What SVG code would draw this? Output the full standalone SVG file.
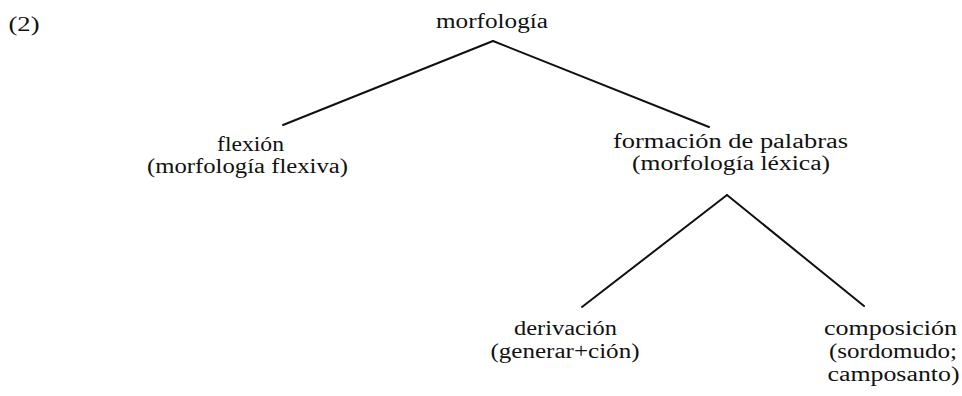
<svg xmlns="http://www.w3.org/2000/svg" width="962" height="396" viewBox="0 0 962 396">
<style>
.t{font-size:20px;fill:#111;text-anchor:middle}
.edge{stroke:#111;stroke-width:2;fill:none;stroke-linecap:round}
</style>
<rect width="962" height="396" fill="#fff"/>
<g font-family="'Liberation Serif', 'Times New Roman', serif">
<text id="num" class="t" x="24" y="31" textLength="31" lengthAdjust="spacingAndGlyphs">(2)</text>
<g id="connectors">
<line class="edge" x1="493" y1="41" x2="283" y2="125"/>
<line class="edge" x1="493" y1="41" x2="709" y2="127"/>
<line class="edge" x1="727" y1="195" x2="582" y2="307"/>
<line class="edge" x1="727" y1="195" x2="864" y2="306"/>
</g>
<g id="n-morfologia">
<text class="t" x="492" y="28" textLength="112" lengthAdjust="spacingAndGlyphs">morfología</text>
</g>
<g id="n-flexion">
<text class="t" x="250.5" y="151" textLength="67" lengthAdjust="spacingAndGlyphs">flexión</text>
<text class="t" x="247.5" y="173" textLength="201" lengthAdjust="spacingAndGlyphs">(morfología flexiva)</text>
</g>
<g id="n-formacion">
<text class="t" x="730.5" y="148" textLength="235" lengthAdjust="spacingAndGlyphs">formación de palabras</text>
<text class="t" x="731" y="170" textLength="198" lengthAdjust="spacingAndGlyphs">(morfología léxica)</text>
</g>
<g id="n-derivacion">
<text class="t" x="565.5" y="335" textLength="103" lengthAdjust="spacingAndGlyphs">derivación</text>
<text class="t" x="565" y="358" textLength="149" lengthAdjust="spacingAndGlyphs">(generar+ción)</text>
</g>
<g id="n-composicion">
<text class="t" x="890.5" y="335" textLength="133" lengthAdjust="spacingAndGlyphs">composición</text>
<text class="t" x="893" y="358" textLength="128" lengthAdjust="spacingAndGlyphs">(sordomudo;</text>
<text class="t" x="893.5" y="381" textLength="132" lengthAdjust="spacingAndGlyphs">camposanto)</text>
</g>
</g>
</svg>
